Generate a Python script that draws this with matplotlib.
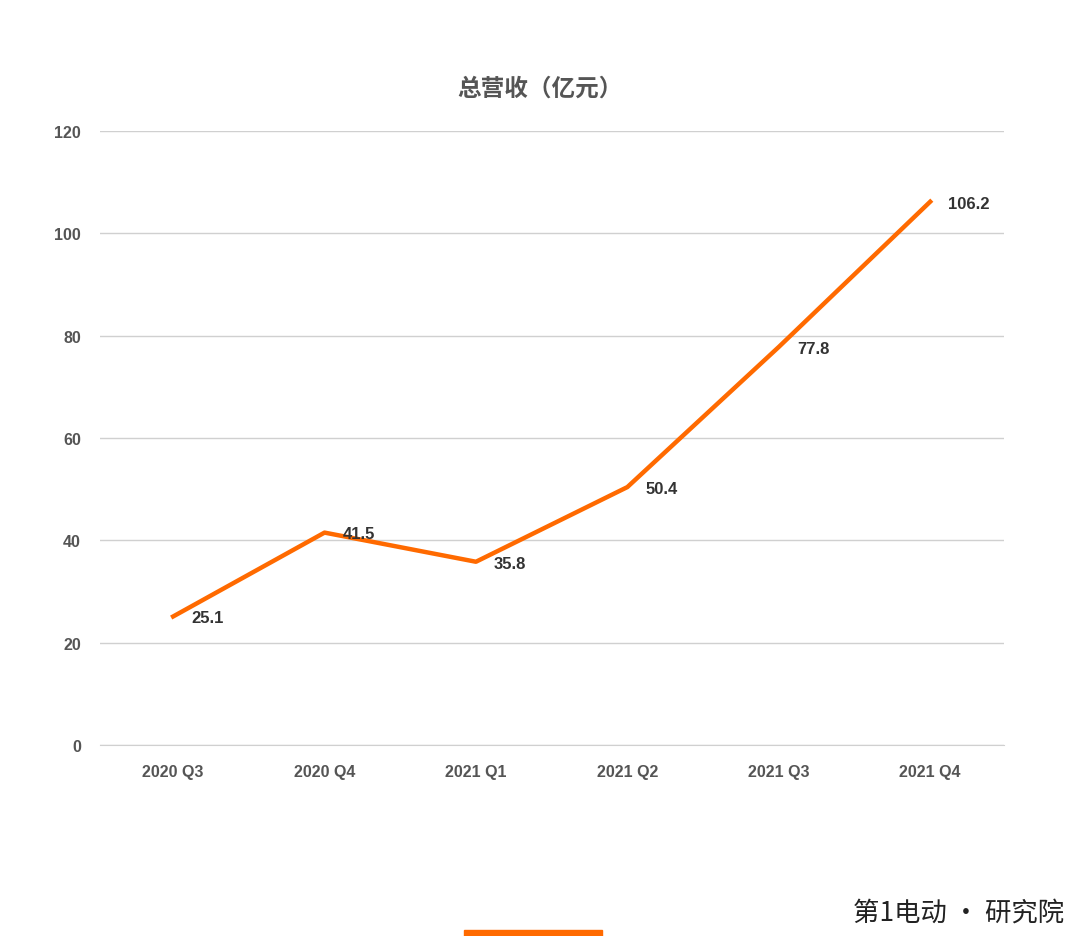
import matplotlib
matplotlib.use("Agg")
import matplotlib.pyplot as plt
from matplotlib.patches import Rectangle

plt.rcParams['font.family'] = ['Liberation Sans', 'Noto Sans CJK SC', 'DejaVu Sans']

categories = ["2020 Q3", "2020 Q4", "2021 Q1", "2021 Q2", "2021 Q3", "2021 Q4"]
values = [25.1, 41.5, 35.8, 50.4, 77.8, 106.2]
yticks = [0, 20, 40, 60, 80, 100, 120]

fig = plt.figure(figsize=(10.8, 9.37), dpi=100)
ax = fig.add_axes([0.093, 0.204, 0.837, 0.655])
x = list(range(len(categories)))
ax.plot(x, values, color='#FF6A00', lw=3.2, solid_joinstyle='round', zorder=3)
for xi, v in zip(x, values):
    ax.annotate(f"{v}", (xi, v), xytext=(13, -1), textcoords='offset points',
                ha='left', va='center', fontsize=12, fontweight='bold', color='#333333')
ax.set_xlim(-0.48, 5.49)
ax.set_ylim(0, 120)
ax.set_yticks(yticks)
ax.set_xticks(x)
ax.set_xticklabels(categories)
ax.grid(axis='y', color='#D0D0D0', lw=1)
ax.set_axisbelow(True)
for s in ax.spines.values():
    s.set_visible(False)
ax.spines['bottom'].set_visible(True)
ax.spines['bottom'].set_color('#D0D0D0')
ax.tick_params(length=0, labelsize=11.5, colors='#555555', pad=14)
for lbl in ax.get_xticklabels() + ax.get_yticklabels():
    lbl.set_fontweight('bold')
fig.text(0.5, 0.905, "总营收（亿元）", ha='center', va='center', fontsize=17,
         fontweight='bold', color='#555555', family=['Noto Sans CJK SC'])
fig.text(0.985, 0.025, "第1电动 • 研究院", ha='right', va='center', fontsize=19,
         color='#222222', family=['Noto Sans CJK SC', 'DejaVu Sans'])
fig.patches.append(Rectangle((0.43, 0.0), 0.127, 0.006, transform=fig.transFigure,
                             color='#FF6A00'))
fig.savefig("out.png", dpi=100)
